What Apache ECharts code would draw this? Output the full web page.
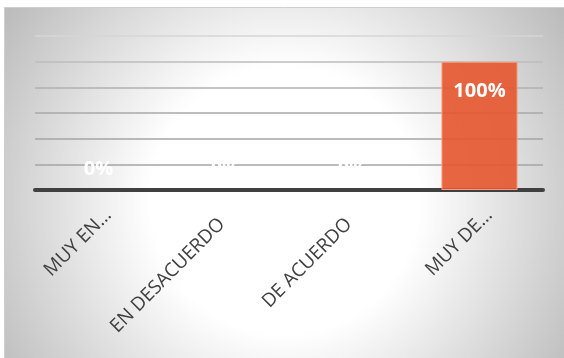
<!DOCTYPE html>
<html>
<head>
<meta charset="utf-8">
<script src="https://cdn.jsdelivr.net/npm/echarts@6/dist/echarts.min.js"></script>
<style>html,body{margin:0;padding:0;background:#fff}#c{width:564px;height:358px}</style>
</head>
<body>
<div id="c"></div>
<script>
const categories = ['MUY EN…', 'EN DESACUERDO', 'DE ACUERDO', 'MUY DE…'];
const values = [0, 0, 0, 1];
const yTicks = [0, 0.2, 0.4, 0.6, 0.8, 1.0, 1.2];
const truncated = [true, false, false, true];

const chart = echarts.init(document.getElementById('c'), null, {renderer: 'canvas'});
const seriesData = values.map(function (v) {
  if (v === 0) {
    return {value: v, itemStyle: {borderWidth: 0}, label: {position: 'top', distance: 11}};
  }
  return {value: v, label: {position: 'insideTop', distance: 20}};
});
chart.setOption({
  animation: false,
  graphic: [{
    type: 'rect', z: -10, silent: true,
    shape: {x: 4.5, y: 7.5, width: 560, height: 351},
    style: {
      fill: {type: 'radial', x: 0.5, y: 0.55, r: 0.95,
        colorStops: [{offset: 0, color: '#ffffff'}, {offset: 0.4, color: '#ffffff'}, {offset: 1, color: '#bcbcbc'}]},
      stroke: '#cfcfcf', lineWidth: 1
    }
  }],
  grid: {left: 35, right: 21, top: 36, bottom: 168, containLabel: false},
  xAxis: {
    type: 'category', data: categories,
    axisLine: {lineStyle: {color: '#404040', width: 4}},
    axisTick: {show: false},
    axisLabel: {
      interval: 0, rotate: 45, color: '#404040', fontSize: 19, fontFamily: 'Open Sans', margin: 8,
      formatter: function (val, idx) { return truncated[idx] ? '{t|' + val + '}' : '{n|' + val + '}'; },
      rich: {
        t: {fontSize: 19, fontFamily: 'Open Sans', color: '#404040', padding: [34, 3, 0, 0]},
        n: {fontSize: 19, fontFamily: 'Open Sans', color: '#404040', padding: [28, 19, 0, 0]}
      }
    }
  },
  yAxis: {
    type: 'value', min: yTicks[0], max: yTicks[yTicks.length - 1], interval: 0.2,
    axisLabel: {show: false}, axisLine: {show: false}, axisTick: {show: false},
    splitLine: {lineStyle: {color: ['#a4a4a4', '#a4a4a4', '#a4a4a4', '#a8a8a8', '#b0b0b0', '#bcbcbc', '#d6d6d6'], width: 1.5}}
  },
  series: [{
    type: 'bar', data: seriesData, barCategoryGap: '40%',
    itemStyle: {color: 'rgba(229,85,45,0.9)', borderColor: 'rgba(245,170,140,0.9)', borderWidth: 1},
    label: {show: true, color: '#ffffff', fontWeight: 'bold', fontSize: 20, fontFamily: 'Open Sans',
      formatter: function (p) { return Math.round(p.value * 100) + '%'; }}
  }]
});
</script>
</body>
</html>
